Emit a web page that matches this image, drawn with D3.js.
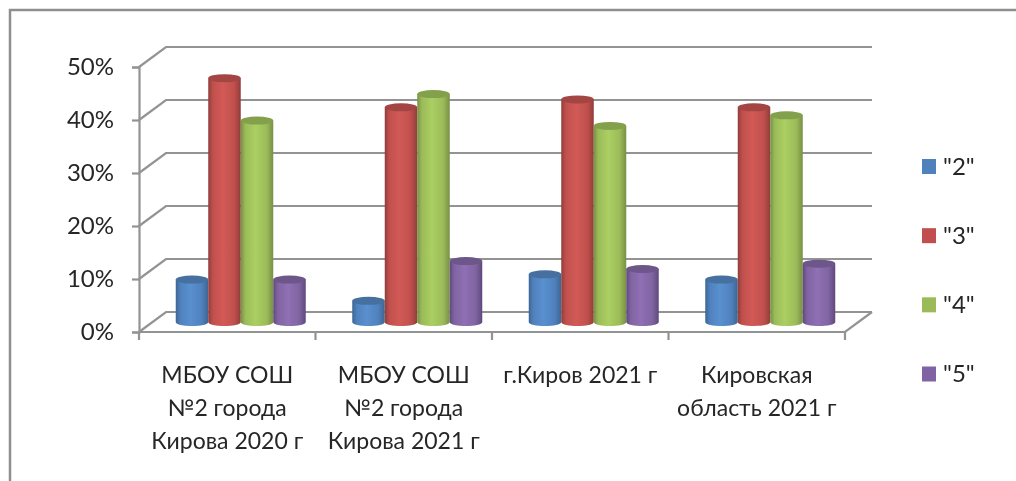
<!DOCTYPE html>
<html>
<head>
<meta charset="utf-8">
<script src="https://cdn.jsdelivr.net/npm/d3@7"></script>
<style>
    html, body { margin: 0; padding: 0; background: #fff; }
    svg { display: block; }
    text { font-family: Lato, "Open Sans", sans-serif; fill: #262626; }
</style>
</head>
<body>
<div id="chart"></div>
<script>
var categories = ["cat1", "cat2", "cat3", "cat4"]
var categoryLines = [
    ["МБОУ СОШ", "№2 города", "Кирова 2020 г"],
    ["МБОУ СОШ", "№2 города", "Кирова 2021 г"],
    ["г.Киров 2021 г"],
    ["Кировская", "область 2021 г"]
]
var seriesNames = ["\"2\"", "\"3\"", "\"4\"", "\"5\""]
var values2 = [8, 4, 9, 8]
var values3 = [46, 40.5, 42, 40.5]
var values4 = [38, 43, 37, 39]
var values5 = [8, 11.5, 10, 11]
var seriesValues = [values2, values3, values4, values5]
var yTicks = [0, 10, 20, 30, 40, 50]

var colors = ["#4f81bd", "#c0504d", "#9bbb59", "#8064a2"]
var lightColors = ["#5a90cf", "#d25a56", "#abcf62", "#8f70b4"]
var darkColors = ["#3d6592", "#8f3d3a", "#779045", "#60497c"]
var topColors = ["#44709f", "#a34442", "#83a04c", "#6d5689"]

var width = 1016
var height = 481
var gridColor = "#939393"

var depthX = 27
var depthY = -20
var barRy = 4

var svg = d3.select("#chart").append("svg")
    .attr("width", width)
    .attr("height", height)

var defs = svg.append("defs")

var soften = defs.append("filter").attr("id", "soften")
soften.append("feGaussianBlur").attr("stdDeviation", 0.55)

colors.forEach(function(c, i)
{
    var grad = defs.append("linearGradient").attr("id", "bar" + i)
    grad.append("stop").attr("offset", "0%").attr("stop-color", darkColors[i])
    grad.append("stop").attr("offset", "14%").attr("stop-color", c)
    grad.append("stop").attr("offset", "45%").attr("stop-color", lightColors[i])
    grad.append("stop").attr("offset", "80%").attr("stop-color", c)
    grad.append("stop").attr("offset", "100%").attr("stop-color", darkColors[i])
})

var root = svg.append("g").attr("filter", "url(#soften)")

// outer frame, open at the right and bottom
root.append("path")
    .attr("d", d3.line()([[10, height], [10, 10], [width, 10]]))
    .attr("fill", "none")
    .attr("stroke", "#8f8f8f")
    .attr("stroke-width", 2.5)

var xScale = d3.scaleBand().domain(categories).range([139, 845])
var yScale = d3.scaleLinear().domain([0, 50]).range([332, 67])
var seriesScale = d3.scaleBand().domain(d3.range(seriesNames.length)).range([-65, 65])

// back wall and side wall gridlines
root.append("g").selectAll("path")
    .data(yTicks)
    .enter()
        .append("path")
        .attr("d", function(d)
        {
            var y = yScale(d)
            return d3.line()([[139, y], [139 + depthX, y + depthY], [845 + depthX, y + depthY]])
        })
        .attr("fill", "none")
        .attr("stroke", gridColor)
        .attr("stroke-width", 2.2)

// floor front and right edge
root.append("path")
    .attr("d", d3.line()([[139, yScale(0)], [845, yScale(0)], [845 + depthX, yScale(0) + depthY]]))
    .attr("fill", "none")
    .attr("stroke", gridColor)
    .attr("stroke-width", 2.2)

var yAxis = d3.axisLeft(yScale)
    .tickValues(yTicks)
    .tickSize(7)
    .tickPadding(18)
    .tickFormat(function(d){return d + "%"})

var yAxisG = root.append("g")
    .attr("transform", "translate(139,0)")
    .call(yAxis)
yAxisG.select(".domain").attr("stroke", gridColor).attr("stroke-width", 2.2)
yAxisG.selectAll(".tick line").attr("stroke", gridColor).attr("stroke-width", 2.2)
yAxisG.selectAll(".tick text")
    .attr("font-size", 24)
    .style("font-family", "Lato, sans-serif")

// x ticks sit on the category boundaries
root.append("g").selectAll("line")
    .data(categories.concat(["end"]))
    .enter()
        .append("line")
        .attr("x1", function(d, i){return 139 + i * xScale.bandwidth()})
        .attr("x2", function(d, i){return 139 + i * xScale.bandwidth()})
        .attr("y1", yScale(0))
        .attr("y2", yScale(0) + 8)
        .attr("stroke", gridColor)
        .attr("stroke-width", 2.2)

// cylinders, one series after the other so later ones overlap earlier ones
var baseY = yScale(0) + depthY / 2

function cylinderPath(cx, rx, top, bottom)
{
    var p = d3.path()
    p.moveTo(cx - rx, top)
    p.lineTo(cx - rx, bottom)
    p.bezierCurveTo(cx - rx, bottom + barRy * 1.33, cx + rx, bottom + barRy * 1.33, cx + rx, bottom)
    p.lineTo(cx + rx, top)
    p.closePath()
    return p.toString()
}

seriesNames.forEach(function(name, s)
{
    var group = root.append("g")
    var rx = seriesScale.bandwidth() / 2

    group.selectAll("path")
        .data(seriesValues[s])
        .enter()
            .append("path")
            .attr("d", function(d, i)
            {
                var cx = xScale(categories[i]) + xScale.bandwidth() / 2 + depthX / 2 + seriesScale(s) + rx
                return cylinderPath(cx, rx, baseY - (yScale(0) - yScale(d)), baseY)
            })
            .attr("fill", "url(#bar" + s + ")")

    group.selectAll("ellipse")
        .data(seriesValues[s])
        .enter()
            .append("ellipse")
            .attr("cx", function(d, i){return xScale(categories[i]) + xScale.bandwidth() / 2 + depthX / 2 + seriesScale(s) + rx})
            .attr("cy", function(d){return baseY - (yScale(0) - yScale(d))})
            .attr("rx", rx)
            .attr("ry", barRy)
            .attr("fill", topColors[s])
})

// category labels
var labels = root.append("g")
categoryLines.forEach(function(lines, i)
{
    labels.selectAll(null)
        .data(lines)
        .enter()
            .append("text")
            .attr("x", xScale(categories[i]) + xScale.bandwidth() / 2)
            .attr("y", function(d, j){return 383 + j * 33})
            .attr("text-anchor", "middle")
            .attr("font-size", 23)
            .text(function(d){return d})
})

// legend
var legendY = d3.scalePoint().domain(seriesNames).range([166.5, 374])

var legend = root.append("g").selectAll("g")
    .data(seriesNames)
    .enter()
        .append("g")
        .attr("transform", function(d){return "translate(922," + legendY(d) + ")"})

legend.append("rect")
    .attr("y", -7.5)
    .attr("width", 14)
    .attr("height", 15)
    .attr("fill", function(d, i){return colors[i]})

legend.append("text")
    .attr("x", 21)
    .attr("y", 8)
    .attr("font-size", 24)
    .text(function(d){return d})
</script>
</body>
</html>
